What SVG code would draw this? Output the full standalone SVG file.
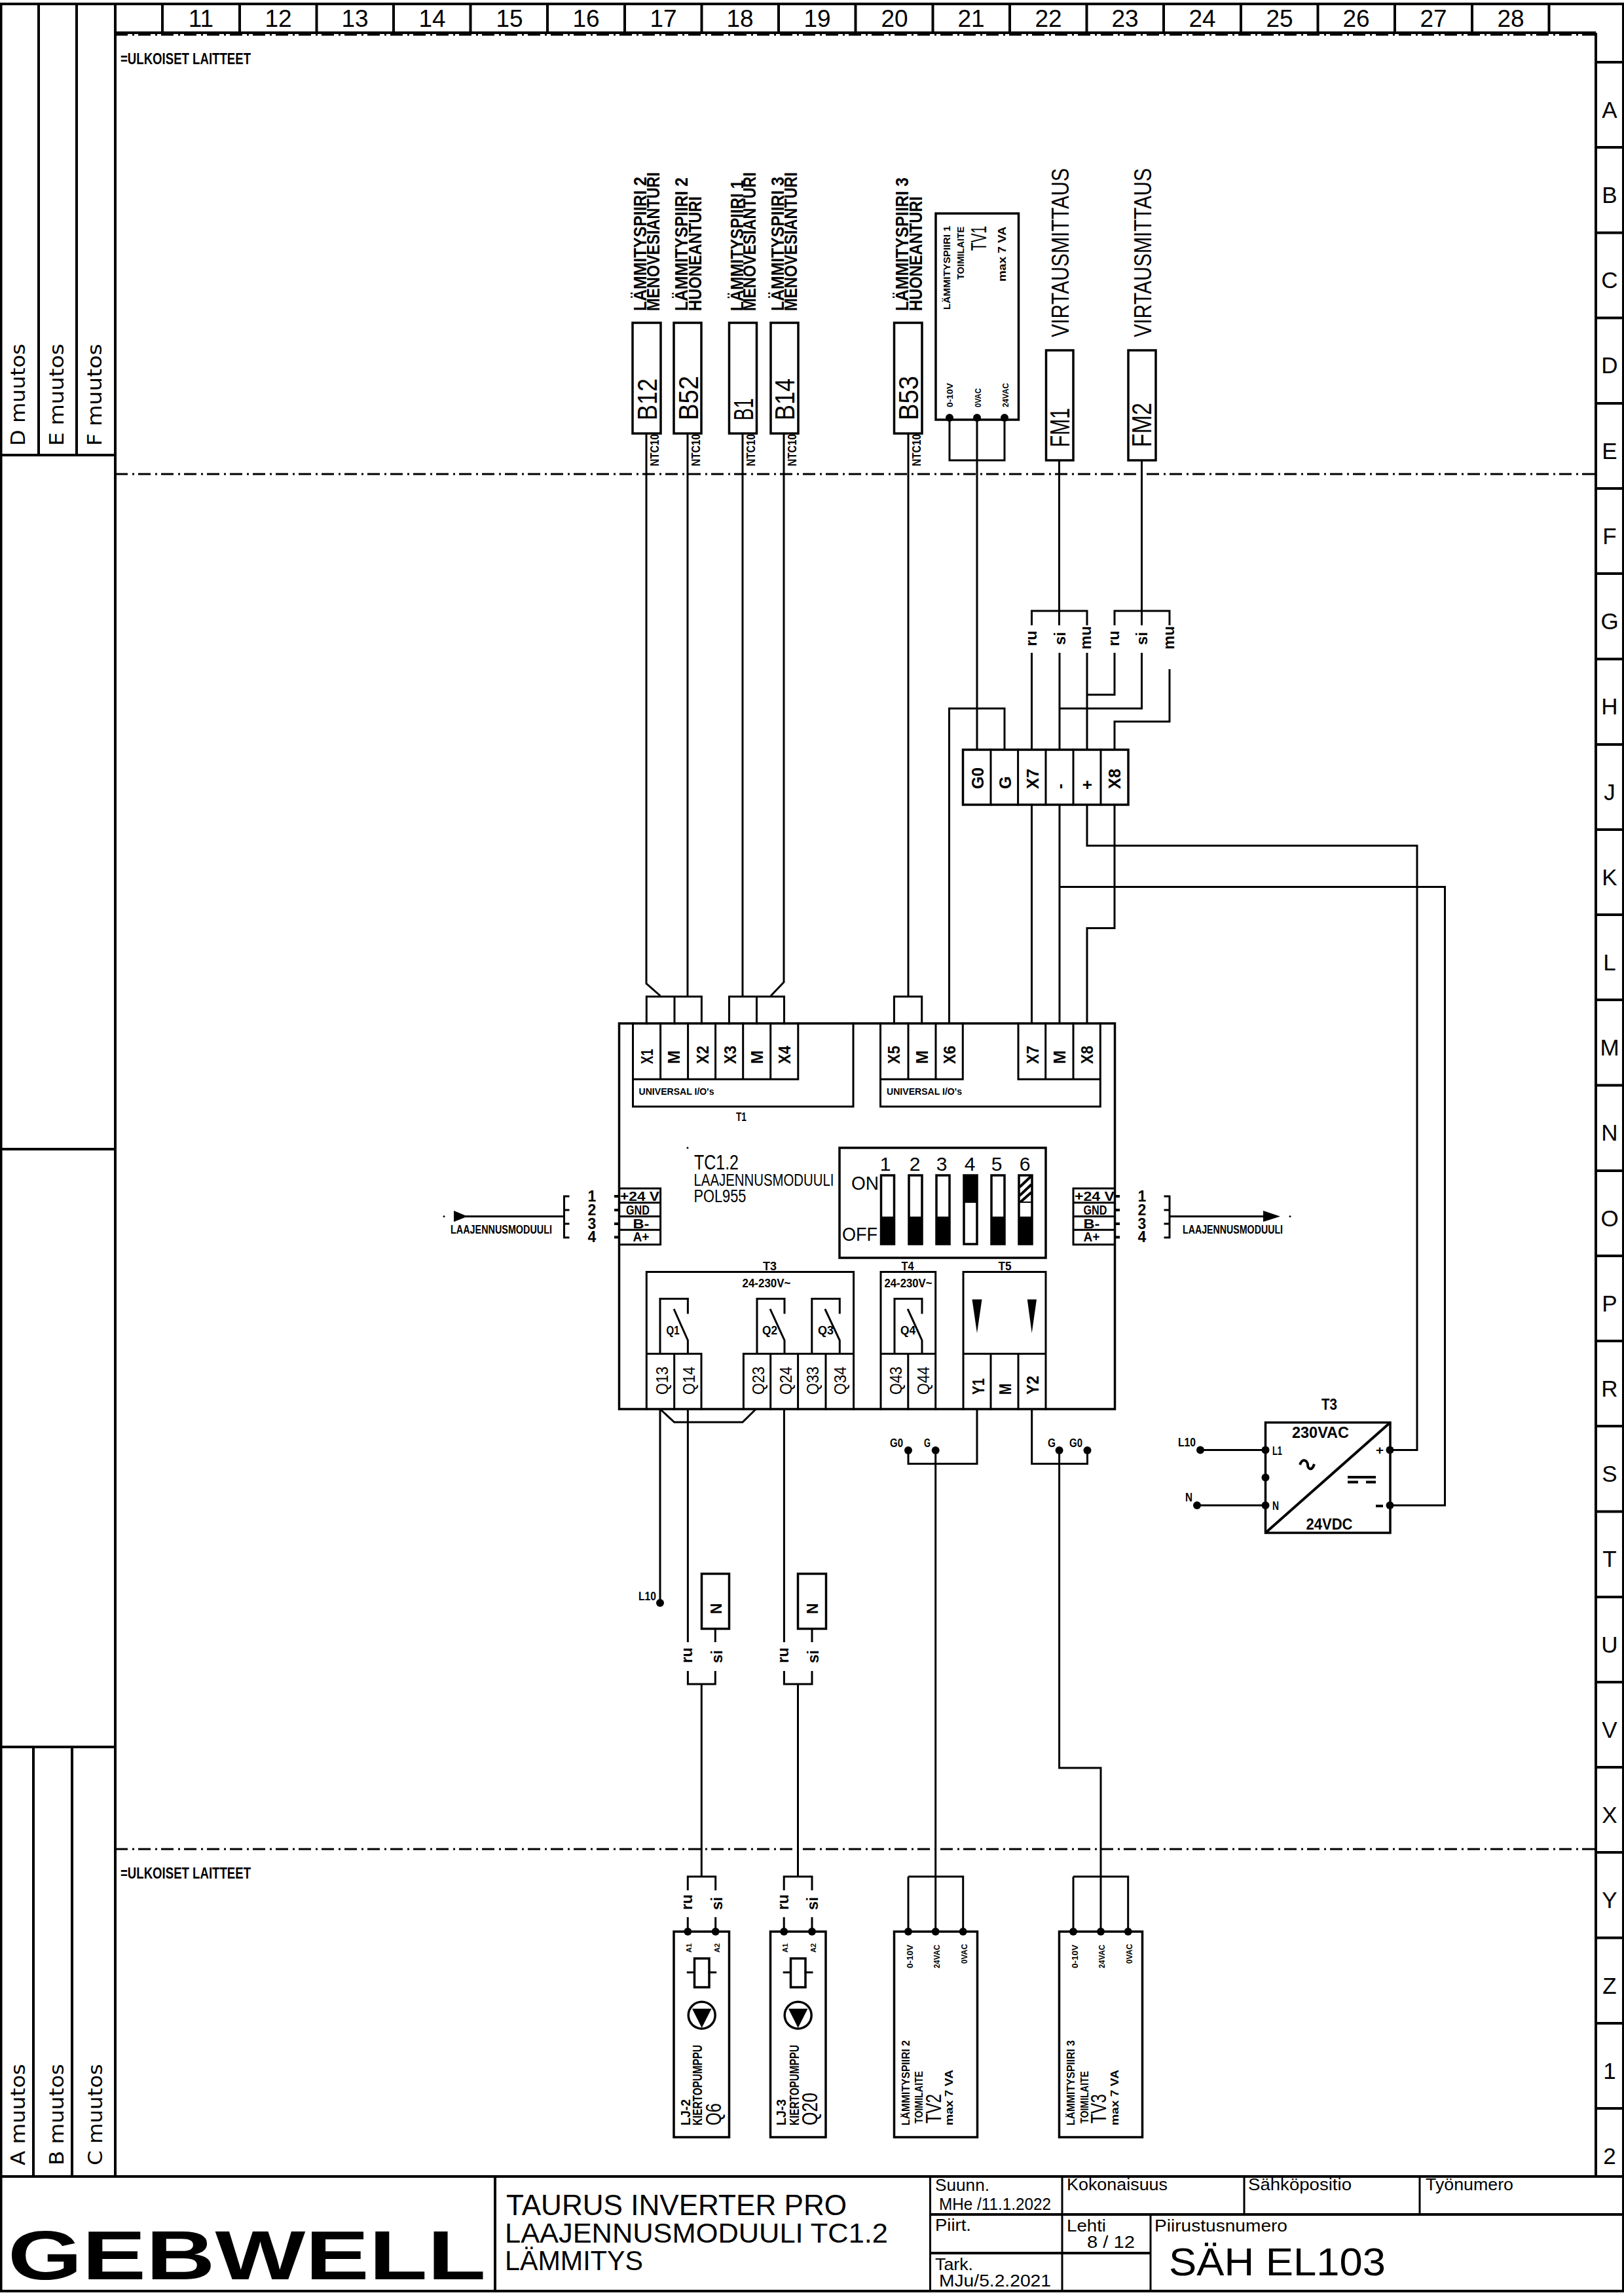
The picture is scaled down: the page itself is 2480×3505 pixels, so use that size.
<svg xmlns="http://www.w3.org/2000/svg" width="2480" height="3505" viewBox="0 0 2480 3505">
<style>
.l{fill:none;stroke:#000;stroke-width:3;stroke-linecap:square;stroke-linejoin:miter}
.w{fill:none;stroke:#000;stroke-width:3;stroke-linecap:butt}
.h{fill:none;stroke:#000;stroke-width:4;stroke-linecap:butt}
.dd{fill:none;stroke:#000;stroke-width:3;stroke-dasharray:19 7 3 6}
.d{fill:#000;stroke:none}
.f{fill:#000;stroke:none}
.box{fill:#fff;stroke:#000;stroke-width:3.5}
text{font-family:"Liberation Sans",Arial,sans-serif;fill:#000}
.b{font-weight:bold}
.m{font-family:"DejaVu Sans","Liberation Sans",sans-serif}
.c{text-anchor:middle}
</style>
<rect width="2480" height="3505" fill="#fff"/>
<g id="frame">
<path class="h" d="M0 6H2480M1.5 6V3499M0 3499H2480M2479 6V3499M0 3324H2480M176 6V3324M2437 50V3324M248 6V50M366 6V50M483.5 6V50M601 6V50M718.5 6V50M836 6V50M954 6V50M1071.5 6V50M1189 6V50M1306.5 6V50M1424.5 6V50M1542 6V50M1659.5 6V50M1777 6V50M1895 6V50M2012.5 6V50M2130 6V50M2248 6V50M2365.5 6V50"/>
<path class="h" d="M176 50H2437"/><path class="dd" d="M176 53H2437" stroke-width="3"/>
<path class="h" d="M59 6V695M117 6V695M0 695H176M0 1755H176M0 2668H176M51 2668V3324M110 2668V3324"/>
<path class="h" d="M2437 95H2480M2437 225H2480M2437 355.500H2480M2437 485.500H2480M2437 616H2480M2437 746H2480M2437 876H2480M2437 1006.500H2480M2437 1137H2480M2437 1267H2480M2437 1397H2480M2437 1527H2480M2437 1657.500H2480M2437 1788H2480M2437 1918H2480M2437 2048H2480M2437 2178H2480M2437 2308.500H2480M2437 2439H2480M2437 2569H2480M2437 2699H2480M2437 2829H2480M2437 2959.500H2480M2437 3090H2480M2437 3220H2480"/>
<path class="dd" d="M176 724H2437M176 2824H2437"/>
<g font-size="37" class="c">
<text class="c" x="307" y="41">11</text><text class="c" x="425" y="41">12</text><text class="c" x="542" y="41">13</text><text class="c" x="660" y="41">14</text><text class="c" x="778" y="41">15</text><text class="c" x="895" y="41">16</text><text class="c" x="1013" y="41">17</text><text class="c" x="1130" y="41">18</text><text class="c" x="1248" y="41">19</text><text class="c" x="1366" y="41">20</text><text class="c" x="1483" y="41">21</text><text class="c" x="1601" y="41">22</text><text class="c" x="1718" y="41">23</text><text class="c" x="1836" y="41">24</text><text class="c" x="1954" y="41">25</text><text class="c" x="2071" y="41">26</text><text class="c" x="2189" y="41">27</text><text class="c" x="2307" y="41">28</text>
</g>
<g font-size="35">
<text class="c" x="2458" y="180">A</text><text class="c" x="2458" y="310">B</text><text class="c" x="2458" y="440">C</text><text class="c" x="2458" y="570">D</text><text class="c" x="2458" y="701">E</text><text class="c" x="2458" y="831">F</text><text class="c" x="2458" y="961">G</text><text class="c" x="2458" y="1091">H</text><text class="c" x="2458" y="1222">J</text><text class="c" x="2458" y="1352">K</text><text class="c" x="2458" y="1482">L</text><text class="c" x="2458" y="1612">M</text><text class="c" x="2458" y="1742">N</text><text class="c" x="2458" y="1873">O</text><text class="c" x="2458" y="2003">P</text><text class="c" x="2458" y="2133">R</text><text class="c" x="2458" y="2263">S</text><text class="c" x="2458" y="2393">T</text><text class="c" x="2458" y="2524">U</text><text class="c" x="2458" y="2654">V</text><text class="c" x="2458" y="2784">X</text><text class="c" x="2458" y="2914">Y</text><text class="c" x="2458" y="3045">Z</text><text class="c" x="2458" y="3175">1</text><text class="c" x="2458" y="3305">2</text>
</g>
<g font-size="30">
<text class="m" transform="translate(38 681) rotate(-90)" textLength="156" lengthAdjust="spacingAndGlyphs">D muutos</text>
<text class="m" transform="translate(97 681) rotate(-90)" textLength="156" lengthAdjust="spacingAndGlyphs">E muutos</text>
<text class="m" transform="translate(155 681) rotate(-90)" textLength="156" lengthAdjust="spacingAndGlyphs">F muutos</text>
<text class="m" transform="translate(38 3307) rotate(-90)" textLength="155" lengthAdjust="spacingAndGlyphs">A muutos</text>
<text class="m" transform="translate(97 3307) rotate(-90)" textLength="155" lengthAdjust="spacingAndGlyphs">B muutos</text>
<text class="m" transform="translate(156 3307) rotate(-90)" textLength="155" lengthAdjust="spacingAndGlyphs">C muutos</text>
</g>
<text class="b" x="184" y="98" font-size="24" textLength="199" lengthAdjust="spacingAndGlyphs">=ULKOISET LAITTEET</text>
<text class="b" x="184" y="2869" font-size="24" textLength="199" lengthAdjust="spacingAndGlyphs">=ULKOISET LAITTEET</text>
</g>
<g id="titleblock">
<path class="h" d="M756 3324V3499"/>
<path class="l" d="M1420.500 3324V3499M1622 3324V3499M1900 3324V3382M2168 3324V3382M1757 3382V3499"/>
<path class="h" d="M1420.500 3382H2480M1420.500 3441H1757"/>
<text class="b" x="12" y="3481" font-size="106" textLength="730" lengthAdjust="spacingAndGlyphs">GEBWELL</text>
<text x="773" y="3383" font-size="44" textLength="520" lengthAdjust="spacingAndGlyphs">TAURUS INVERTER PRO</text>
<text x="771" y="3425" font-size="42" textLength="585" lengthAdjust="spacingAndGlyphs">LAAJENNUSMODUULI TC1.2</text>
<text x="771" y="3467" font-size="42" textLength="211" lengthAdjust="spacingAndGlyphs">LÄMMITYS</text>
<g font-size="25">
<text x="1428" y="3346" textLength="83" lengthAdjust="spacingAndGlyphs">Suunn.</text>
<text x="1434" y="3375" textLength="171" lengthAdjust="spacingAndGlyphs">MHe /11.1.2022</text>
<text x="1629" y="3345" textLength="154" lengthAdjust="spacingAndGlyphs">Kokonaisuus</text>
<text x="1906" y="3345" textLength="158" lengthAdjust="spacingAndGlyphs">Sähköpositio</text>
<text x="2177" y="3345" textLength="134" lengthAdjust="spacingAndGlyphs">Työnumero</text>
<text x="1428" y="3407" textLength="55" lengthAdjust="spacingAndGlyphs">Piirt.</text>
<text x="1629" y="3408" textLength="60" lengthAdjust="spacingAndGlyphs">Lehti</text>
<text x="1660" y="3433" textLength="73" lengthAdjust="spacingAndGlyphs">8 / 12</text>
<text x="1763" y="3408" textLength="203" lengthAdjust="spacingAndGlyphs">Piirustusnumero</text>
<text x="1428" y="3467" textLength="58" lengthAdjust="spacingAndGlyphs">Tark.</text>
<text x="1434" y="3492" textLength="171" lengthAdjust="spacingAndGlyphs">MJu/5.2.2021</text>
</g>
<text x="1785" y="3475" font-size="60" textLength="331" lengthAdjust="spacingAndGlyphs">SÄH EL103</text>
</g>
<g id="connectors">
<path class="w" d="M987 662V1502L1008.500 1521M1050 662V1522M1134 662V1522M1197 662V1500L1177 1521M1387 662V1522"/>
<path class="w" d="M1450 638V703H1534V638M1492 638V1145M1617.500 703V955M1743.500 703V955"/>
<path class="w" d="M1575.500 955V933H1660V955M1702 955V933H1786V955"/>
<path class="w" d="M1575.500 997V1145M1618 997V1145M1660 997V1145M1702 997V1061H1660M1743.500 997V1082H1618M1786 1022V1102H1702V1145"/>
<path class="w" d="M1534 1145V1082H1449.500V1563"/>
<path class="w" d="M1575.500 1229V1563M1618 1229V1563M1660 1229V1291.500H2164V2214.500H2123M1618 1354.500H2206.500V2299H2123M1702 1229V1417.500H1660V1563"/>
<path class="w" d="M1008 2152V2448M1008 2152L1029.700 2172H1134L1154.300 2152M1050.400 2152V2508M1197.400 2152V2508"/>
<path class="w" d="M1092.300 2487.500V2508M1240 2487.500V2508"/>
<path class="w" d="M1050.400 2552V2572H1092.300V2552M1071.300 2572V2866M1197.400 2552V2572H1240V2552M1218.500 2572V2866"/>
<path class="w" d="M1050.300 2887V2866H1092.700V2887M1197.200 2887V2866H1240V2887M1050.300 2928V2950M1092.700 2928V2950M1197.200 2928V2950M1240 2928V2950"/>
<path class="w" d="M1492 2152V2235.500H1387V2215M1428.700 2215V2950M1387 2866H1470.700V2950M1387 2866V2950"/>
<path class="w" d="M1575.700 2152V2235.500H1660.500V2215M1617.600 2215V2700H1681V2950M1639 2866H1722.700V2950M1639 2866V2950"/>
<path class="w" d="M1833 2214.500H1932.500M1828 2299H1932.500"/>
<path class="w" d="M860 1857.700H711M1786 1857.700H1932"/>
<path class="l" d="M868 1827H861.500V1890H868M861.500 1848H868M861.500 1869H868M1779 1827H1786V1890H1779M1786 1848H1779M1786 1869H1779"/>
<path class="f" d="M693 1849L714 1857.700L693 1866ZM1929 1849L1955 1857.700L1929 1866Z"/>
<circle class="d" cx="678" cy="1857.700" r="1.500"/><circle class="d" cx="1970" cy="1857.700" r="1.500"/>
<text class="b" x="688" y="1884" font-size="19" textLength="155" lengthAdjust="spacingAndGlyphs">LAAJENNUSMODUULI</text>
<text class="b" x="1806" y="1884" font-size="19" textLength="153" lengthAdjust="spacingAndGlyphs">LAAJENNUSMODUULI</text>
<g class="b" font-size="23">
<text class="b c" x="904" y="1835">1</text><text class="b c" x="904" y="1856">2</text><text class="b c" x="904" y="1877">3</text><text class="b c" x="904" y="1897">4</text>
<text class="b c" x="1744" y="1835">1</text><text class="b c" x="1744" y="1856">2</text><text class="b c" x="1744" y="1877">3</text><text class="b c" x="1744" y="1897">4</text>
</g>
<g font-size="24" class="b">
<text class="b" transform="translate(1583 987) rotate(-90)">ru</text><text class="b" transform="translate(1627 985) rotate(-90)">si</text><text class="b" transform="translate(1666 992) rotate(-90)" textLength="36" lengthAdjust="spacingAndGlyphs">mu</text>
<text class="b" transform="translate(1709 987) rotate(-90)">ru</text><text class="b" transform="translate(1752 985) rotate(-90)">si</text><text class="b" transform="translate(1793 992) rotate(-90)" textLength="36" lengthAdjust="spacingAndGlyphs">mu</text>
<text class="b" transform="translate(1057 2540) rotate(-90)">ru</text><text class="b" transform="translate(1103 2540) rotate(-90)">si</text><text class="b" transform="translate(1204 2540) rotate(-90)">ru</text><text class="b" transform="translate(1250 2540) rotate(-90)">si</text>
<text class="b" transform="translate(1057 2917) rotate(-90)">ru</text><text class="b" transform="translate(1103 2917) rotate(-90)">si</text><text class="b" transform="translate(1204 2917) rotate(-90)">ru</text><text class="b" transform="translate(1249 2917) rotate(-90)">si</text>
</g>
</g>
<g id="sensor-B12"><rect class="box" x="966" y="493" width="43" height="169"/>
<text transform="translate(1003 642) rotate(-90)" font-size="42" textLength="64" lengthAdjust="spacingAndGlyphs">B12</text>
<text class="b" transform="translate(987 475) rotate(-90)" font-size="27" textLength="205" lengthAdjust="spacingAndGlyphs">LÄMMITYSPIIRI 2</text>
<text class="b" transform="translate(1007 475) rotate(-90)" font-size="27" textLength="212" lengthAdjust="spacingAndGlyphs">MENOVESIANTURI</text>
<text class="b" transform="translate(1006 712) rotate(-90)" font-size="19" textLength="49" lengthAdjust="spacingAndGlyphs">NTC10</text></g>
<g id="sensor-B52"><rect class="box" x="1029" y="493" width="42" height="169"/>
<text transform="translate(1066 642) rotate(-90)" font-size="42" textLength="68" lengthAdjust="spacingAndGlyphs">B52</text>
<text class="b" transform="translate(1050 475) rotate(-90)" font-size="27" textLength="204" lengthAdjust="spacingAndGlyphs">LÄMMITYSPIIRI 2</text>
<text class="b" transform="translate(1071 475) rotate(-90)" font-size="27" textLength="175" lengthAdjust="spacingAndGlyphs">HUONEANTURI</text>
<text class="b" transform="translate(1069 712) rotate(-90)" font-size="19" textLength="49" lengthAdjust="spacingAndGlyphs">NTC10</text></g>
<g id="sensor-B1"><rect class="box" x="1113.500" y="493" width="42" height="169"/>
<text transform="translate(1150 642) rotate(-90)" font-size="42" textLength="34" lengthAdjust="spacingAndGlyphs">B1</text>
<text class="b" transform="translate(1135 475) rotate(-90)" font-size="27" textLength="200" lengthAdjust="spacingAndGlyphs">LÄMMITYSPIIRI 1</text>
<text class="b" transform="translate(1154 475) rotate(-90)" font-size="27" textLength="212" lengthAdjust="spacingAndGlyphs">MENOVESIANTURI</text>
<text class="b" transform="translate(1153 712) rotate(-90)" font-size="19" textLength="49" lengthAdjust="spacingAndGlyphs">NTC10</text></g>
<g id="sensor-B14"><rect class="box" x="1177" y="493" width="42" height="169"/>
<text transform="translate(1213 642) rotate(-90)" font-size="42" textLength="64" lengthAdjust="spacingAndGlyphs">B14</text>
<text class="b" transform="translate(1197 475) rotate(-90)" font-size="27" textLength="205" lengthAdjust="spacingAndGlyphs">LÄMMITYSPIIRI 3</text>
<text class="b" transform="translate(1217 475) rotate(-90)" font-size="27" textLength="212" lengthAdjust="spacingAndGlyphs">MENOVESIANTURI</text>
<text class="b" transform="translate(1216 712) rotate(-90)" font-size="19" textLength="49" lengthAdjust="spacingAndGlyphs">NTC10</text></g>
<g id="sensor-B53"><rect class="box" x="1365.500" y="493" width="42.500" height="169"/>
<text transform="translate(1402 642) rotate(-90)" font-size="42" textLength="68" lengthAdjust="spacingAndGlyphs">B53</text>
<text class="b" transform="translate(1387 475) rotate(-90)" font-size="27" textLength="204" lengthAdjust="spacingAndGlyphs">LÄMMITYSPIIRI 3</text>
<text class="b" transform="translate(1408 475) rotate(-90)" font-size="27" textLength="175" lengthAdjust="spacingAndGlyphs">HUONEANTURI</text>
<text class="b" transform="translate(1406 712) rotate(-90)" font-size="19" textLength="49" lengthAdjust="spacingAndGlyphs">NTC10</text></g>
<g id="actuator-TV1"><rect class="box" x="1429" y="326" width="126.500" height="315"/>
<text class="b" transform="translate(1451 473) rotate(-90)" font-size="15" textLength="128" lengthAdjust="spacingAndGlyphs">LÄMMITYSPIIRI 1</text>
<text class="b" transform="translate(1472 427) rotate(-90)" font-size="15" textLength="81" lengthAdjust="spacingAndGlyphs">TOIMILAITE</text>
<text transform="translate(1506 383) rotate(-90)" font-size="34" textLength="38" lengthAdjust="spacingAndGlyphs">TV1</text>
<text class="b" transform="translate(1536 430) rotate(-90)" font-size="17" textLength="84" lengthAdjust="spacingAndGlyphs">max 7 VA</text>
<text class="b" transform="translate(1455 622) rotate(-90)" font-size="12" textLength="37" lengthAdjust="spacingAndGlyphs">0-10V</text>
<text class="b" transform="translate(1498 622) rotate(-90)" font-size="12" textLength="29" lengthAdjust="spacingAndGlyphs">0VAC</text>
<text class="b" transform="translate(1540 622) rotate(-90)" font-size="12" textLength="37" lengthAdjust="spacingAndGlyphs">24VAC</text>
<circle class="d" cx="1450" cy="638" r="6"/><circle class="d" cx="1492" cy="638" r="6"/><circle class="d" cx="1534" cy="638" r="6"/></g>
<g id="FM1"><rect class="box" x="1597.500" y="535" width="41.500" height="168"/>
<text transform="translate(1633 683) rotate(-90)" font-size="42" textLength="60" lengthAdjust="spacingAndGlyphs">FM1</text>
<text transform="translate(1632 515) rotate(-90)" font-size="36" textLength="258" lengthAdjust="spacingAndGlyphs">VIRTAUSMITTAUS</text></g>
<g id="FM2"><rect class="box" x="1723" y="535" width="42" height="168"/>
<text transform="translate(1758 683) rotate(-90)" font-size="42" textLength="68" lengthAdjust="spacingAndGlyphs">FM2</text>
<text transform="translate(1758 515) rotate(-90)" font-size="36" textLength="258" lengthAdjust="spacingAndGlyphs">VIRTAUSMITTAUS</text></g>
<g id="terminal-block">
<rect class="box" x="1470.500" y="1145" width="252.500" height="84"/>
<path class="l" d="M1513 1145V1229M1554.600 1145V1229M1597 1145V1229M1639 1145V1229M1681 1145V1229"/>
<g font-size="25" class="b">
<text class="b" transform="translate(1502 1205) rotate(-90)" textLength="33" lengthAdjust="spacingAndGlyphs">G0</text>
<text class="b" transform="translate(1544 1205) rotate(-90)">G</text>
<text class="b" transform="translate(1586 1205) rotate(-90)" textLength="31" lengthAdjust="spacingAndGlyphs">X7</text>
<text class="b" transform="translate(1627 1205) rotate(-90)">-</text>
<text class="b" transform="translate(1669 1206) rotate(-90)">+</text>
<text class="b" transform="translate(1711 1205) rotate(-90)" textLength="31" lengthAdjust="spacingAndGlyphs">X8</text>
</g></g>
<g id="module-TC1.2">
<rect class="box" x="945.500" y="1563" width="757" height="589" fill="none" style="fill:none"/>
<path class="l" d="M987.300 1563V1522H1071.400V1563M1030 1522V1563M1113.500 1563V1522H1197.500V1563M1155.500 1522V1563M1365.400 1563V1522H1407.700V1563"/>
<path class="l" d="M966.500 1563V1690H1303V1563M966.500 1648.300H1218.800V1563M1008.600 1563V1648M1050.600 1563V1648M1092.600 1563V1648M1134.700 1563V1648M1176.700 1563V1648"/>
<path class="l" d="M1344.500 1563V1690H1680.300V1563M1344.500 1648.300H1470.300V1563M1555 1563V1648.300H1680M1387 1563V1648M1429 1563V1648M1596.700 1563V1648M1639 1563V1648"/>
<g font-size="25" class="b">
<text class="b" transform="translate(997 1625) rotate(-90)" textLength="23" lengthAdjust="spacingAndGlyphs">X1</text><text class="b" transform="translate(1038 1625) rotate(-90)">M</text><text class="b" transform="translate(1081.500 1625) rotate(-90)" textLength="28" lengthAdjust="spacingAndGlyphs">X2</text><text class="b" transform="translate(1123.500 1625) rotate(-90)" textLength="28" lengthAdjust="spacingAndGlyphs">X3</text><text class="b" transform="translate(1164.500 1625) rotate(-90)">M</text><text class="b" transform="translate(1207 1625) rotate(-90)" textLength="28" lengthAdjust="spacingAndGlyphs">X4</text>
<text class="b" transform="translate(1374 1625) rotate(-90)" textLength="28" lengthAdjust="spacingAndGlyphs">X5</text><text class="b" transform="translate(1416.500 1625) rotate(-90)">M</text><text class="b" transform="translate(1459 1625) rotate(-90)" textLength="28" lengthAdjust="spacingAndGlyphs">X6</text><text class="b" transform="translate(1585.800 1625) rotate(-90)" textLength="28" lengthAdjust="spacingAndGlyphs">X7</text><text class="b" transform="translate(1627 1625) rotate(-90)">M</text><text class="b" transform="translate(1669 1625) rotate(-90)" textLength="28" lengthAdjust="spacingAndGlyphs">X8</text>
</g>
<text class="b" x="975.500" y="1672" font-size="15" textLength="115" lengthAdjust="spacingAndGlyphs">UNIVERSAL I/O's</text>
<text class="b" x="1354" y="1672" font-size="15" textLength="115" lengthAdjust="spacingAndGlyphs">UNIVERSAL I/O's</text>
<text class="b" x="1124" y="1712" font-size="19" textLength="16" lengthAdjust="spacingAndGlyphs">T1</text>
<circle class="d" cx="1050" cy="1753" r="1.500"/>
<text x="1060" y="1786" font-size="31" textLength="68" lengthAdjust="spacingAndGlyphs">TC1.2</text>
<text x="1059.500" y="1811" font-size="25" textLength="214" lengthAdjust="spacingAndGlyphs">LAAJENNUSMODUULI</text>
<text x="1059.500" y="1836" font-size="27" textLength="80" lengthAdjust="spacingAndGlyphs">POL955</text>
<g id="dip-switch">
<rect class="box" x="1282" y="1753" width="315" height="168"/>
<rect class="box" x="1345.500" y="1795" width="20" height="105"/><rect class="f" x="1344.500" y="1858" width="22" height="43"/>
<rect class="box" x="1388" y="1795" width="20" height="105"/><rect class="f" x="1387" y="1858" width="22" height="43"/>
<rect class="box" x="1430" y="1795" width="20" height="105"/><rect class="f" x="1429" y="1858" width="22" height="43"/>
<rect class="box" x="1472" y="1795" width="20" height="105"/><rect class="f" x="1471" y="1794" width="22" height="43"/>
<rect class="box" x="1514" y="1795" width="20" height="105"/><rect class="f" x="1513" y="1858" width="22" height="43"/>
<rect class="box" x="1556" y="1795" width="20" height="105"/><rect class="f" x="1555" y="1858" width="22" height="43"/>
<path class="f" d="M1555 1835V1837H1577V1835Z"/>
<path class="h" d="M1557 1813L1574 1797M1557 1826L1575 1809M1558 1836L1575 1821"/>
<g font-size="30">
<text class="c" x="1352" y="1788">1</text><text class="c" x="1397" y="1788">2</text><text class="c" x="1438" y="1788">3</text><text class="c" x="1481" y="1788">4</text><text class="c" x="1522" y="1788">5</text><text class="c" x="1565" y="1788">6</text>
</g>
<text x="1300" y="1817" font-size="30" textLength="42" lengthAdjust="spacingAndGlyphs">ON</text>
<text x="1286" y="1895" font-size="30" textLength="54" lengthAdjust="spacingAndGlyphs">OFF</text>
</g>
<path class="l" d="M946 1815H1008.600V1900.700H946M946 1836.700H1008.600M946 1857.700H1008.600M946 1878.300H1008.600"/>
<path class="l" d="M1702 1815H1639V1900.700H1702M1639 1836.700H1702M1639 1857.700H1702M1639 1878.300H1702"/>
<path class="h" d="M938 1827H945M938 1848H945M938 1869H945M938 1889.500H945M1703 1827H1710M1703 1848H1710M1703 1869H1710M1703 1889.500H1710"/>
<g class="b" font-size="21">
<text class="b" x="947" y="1834" textLength="60" lengthAdjust="spacingAndGlyphs">+24 V</text><text class="b" x="956" y="1855" textLength="36" lengthAdjust="spacingAndGlyphs">GND</text><text class="b" x="966.500" y="1876" textLength="25" lengthAdjust="spacingAndGlyphs">B-</text><text class="b" x="966.500" y="1896" textLength="25" lengthAdjust="spacingAndGlyphs">A+</text>
<text class="b" x="1641" y="1834" textLength="61" lengthAdjust="spacingAndGlyphs">+24 V</text><text class="b" x="1654.500" y="1855" textLength="36" lengthAdjust="spacingAndGlyphs">GND</text><text class="b" x="1654.500" y="1876" textLength="25" lengthAdjust="spacingAndGlyphs">B-</text><text class="b" x="1654.500" y="1896" textLength="25" lengthAdjust="spacingAndGlyphs">A+</text>
</g>
<path class="l" d="M987.300 2067.500V1942.500H1303.600V2152M987.300 2067.500V2152M987.300 2067.500H1071V2152M1029.700 2067.500V2152M1135.400 2152V2067.500H1303.600M1176.700 2067.500V2152M1218.600 2067.500V2152M1261 2067.500V2152"/>
<path class="l" d="M1345 2152V1942.500H1428.700V2152M1345 2067.500H1428.700M1386.800 2067.500V2152"/>
<path class="l" d="M1471 2152V1942.500H1597V2152M1471 2067.500H1597M1513 2067.500V2152M1555 2067.500V2152"/>
<path class="l" d="M1008 2067V1983.500H1050.400V2005M1050.400 2067V2047L1029.700 2000.500M1156 2067V1983.500H1198V2005M1198 2067V2047L1176.700 2000.500M1239.800 2067V1983.500H1282.300V2005M1282.300 2067V2047L1260.500 2000.500M1366 2067V1983.500H1408V2005M1408 2067V2047L1386.800 2000.500"/>
<path class="f" d="M1484.500 1984.500H1499.500L1492 2036ZM1568.800 1984.500H1583L1575.700 2036Z"/>
<g class="b" font-size="18">
<text class="b" x="1017.500" y="2038" textLength="20" lengthAdjust="spacingAndGlyphs">Q1</text><text class="b" x="1164" y="2038" textLength="23" lengthAdjust="spacingAndGlyphs">Q2</text><text class="b" x="1249" y="2038" textLength="24" lengthAdjust="spacingAndGlyphs">Q3</text><text class="b" x="1375" y="2038" textLength="23" lengthAdjust="spacingAndGlyphs">Q4</text>
<text class="b" x="1165" y="1940" textLength="21" lengthAdjust="spacingAndGlyphs">T3</text><text class="b" x="1376.500" y="1940" textLength="19" lengthAdjust="spacingAndGlyphs">T4</text><text class="b" x="1524.500" y="1940" textLength="20" lengthAdjust="spacingAndGlyphs">T5</text>
<text class="b" x="1133.500" y="1966" textLength="74" lengthAdjust="spacingAndGlyphs">24-230V~</text><text class="b" x="1350.500" y="1966" textLength="73" lengthAdjust="spacingAndGlyphs">24-230V~</text>
</g>
<g font-size="25">
<text transform="translate(1019.500 2130) rotate(-90)" textLength="43" lengthAdjust="spacingAndGlyphs">Q13</text><text transform="translate(1060.500 2130) rotate(-90)" textLength="43" lengthAdjust="spacingAndGlyphs">Q14</text><text transform="translate(1167 2130) rotate(-90)" textLength="43" lengthAdjust="spacingAndGlyphs">Q23</text><text transform="translate(1209 2130) rotate(-90)" textLength="43" lengthAdjust="spacingAndGlyphs">Q24</text><text transform="translate(1250 2130) rotate(-90)" textLength="43" lengthAdjust="spacingAndGlyphs">Q33</text><text transform="translate(1292 2130) rotate(-90)" textLength="43" lengthAdjust="spacingAndGlyphs">Q34</text><text transform="translate(1376.500 2130) rotate(-90)" textLength="43" lengthAdjust="spacingAndGlyphs">Q43</text><text transform="translate(1418.500 2130) rotate(-90)" textLength="43" lengthAdjust="spacingAndGlyphs">Q44</text>
<text class="b" transform="translate(1503 2130) rotate(-90)" textLength="25" lengthAdjust="spacingAndGlyphs">Y1</text><text class="b" transform="translate(1544 2130) rotate(-90)" textLength="17" lengthAdjust="spacingAndGlyphs">M</text><text class="b" transform="translate(1586 2130) rotate(-90)" textLength="29" lengthAdjust="spacingAndGlyphs">Y2</text>
</g>
</g>
<g id="feeds">
<circle class="d" cx="1008" cy="2448" r="6"/><text class="b" x="975" y="2444" font-size="19" textLength="27" lengthAdjust="spacingAndGlyphs">L10</text>
<rect class="box" x="1071.500" y="2403.500" width="42" height="84"/><text class="b" transform="translate(1101.700 2465) rotate(-90)" font-size="23">N</text>
<rect class="box" x="1218.500" y="2403.500" width="43" height="84"/><text class="b" transform="translate(1249 2465) rotate(-90)" font-size="23">N</text>
<circle class="d" cx="1387" cy="2215" r="6"/><circle class="d" cx="1428.700" cy="2215" r="6"/><circle class="d" cx="1617.600" cy="2215" r="6"/><circle class="d" cx="1660.500" cy="2215" r="6"/>
<g class="b" font-size="19">
<text class="b" x="1359" y="2210" textLength="20" lengthAdjust="spacingAndGlyphs">G0</text><text class="b" x="1411" y="2210" textLength="10" lengthAdjust="spacingAndGlyphs">G</text><text class="b" x="1600" y="2210" textLength="12" lengthAdjust="spacingAndGlyphs">G</text><text class="b" x="1633" y="2210" textLength="20" lengthAdjust="spacingAndGlyphs">G0</text>
</g></g>
<g id="psu-T3">
<rect class="box" x="1932.500" y="2172.500" width="190.500" height="168.500"/>
<path class="h" d="M1932.500 2341L2123 2172.500"/>
<text class="b" x="2018" y="2153" font-size="23" textLength="24" lengthAdjust="spacingAndGlyphs">T3</text>
<text class="b" x="1973" y="2196" font-size="24" textLength="87" lengthAdjust="spacingAndGlyphs">230VAC</text>
<text class="b" x="1994.500" y="2336" font-size="24" textLength="71" lengthAdjust="spacingAndGlyphs">24VDC</text>
<text class="b" x="1799" y="2209" font-size="19" textLength="27" lengthAdjust="spacingAndGlyphs">L10</text>
<text class="b" x="1810" y="2293" font-size="18" textLength="11" lengthAdjust="spacingAndGlyphs">N</text>
<text class="b" x="1943" y="2222" font-size="19" textLength="15" lengthAdjust="spacingAndGlyphs">L1</text>
<text class="b" x="1943" y="2306" font-size="18" textLength="10" lengthAdjust="spacingAndGlyphs">N</text>
<text class="b" x="2101" y="2221" font-size="19" textLength="12" lengthAdjust="spacingAndGlyphs">+</text>
<path class="h" d="M2101 2300H2112"/>
<path class="h" d="M1985 2237C1990 2225 1997 2232 1997 2237C1997 2243 2003 2248 2007 2236"/>
<path class="h" d="M2058 2256H2101M2058 2263.500H2074M2086 2263.500H2101"/>
<circle class="d" cx="1833" cy="2214.500" r="6"/><circle class="d" cx="1828" cy="2299" r="6"/><circle class="d" cx="1932.500" cy="2214.500" r="6"/><circle class="d" cx="1932.500" cy="2256.500" r="6"/><circle class="d" cx="1932.500" cy="2299" r="6"/><circle class="d" cx="2122.500" cy="2214.500" r="6"/><circle class="d" cx="2122.500" cy="2299" r="6"/>
</g>
<g id="pump-Q6">
<rect class="box" x="1029" y="2950" width="84.500" height="314"/>
<circle class="d" cx="1050.300" cy="2950" r="6"/><circle class="d" cx="1092.700" cy="2950" r="6"/>
<text class="b" transform="translate(1056 2982) rotate(-90)" font-size="11">A1</text><text class="b" transform="translate(1099 2982) rotate(-90)" font-size="11">A2</text>
<rect class="box" x="1060.500" y="2991" width="22.500" height="44"/><path class="l" d="M1050.300 3012.300H1060.500M1083 3012.300H1092.700"/>
<circle cx="1071.700" cy="3077.700" r="20.500" class="box"/><path class="f" d="M1057 3067.700H1086.500L1071.700 3097Z"/>
<text class="b" transform="translate(1053.500 3246) rotate(-90)" font-size="21" textLength="40" lengthAdjust="spacingAndGlyphs">LJ-2</text>
<text class="b" transform="translate(1072 3246) rotate(-90)" font-size="20" textLength="123" lengthAdjust="spacingAndGlyphs">KIERTOPUMPPU</text>
<text transform="translate(1101 3246) rotate(-90)" font-size="33" textLength="34" lengthAdjust="spacingAndGlyphs">Q6</text>
</g>
<g id="pump-Q20">
<rect class="box" x="1176.500" y="2950" width="84.500" height="314"/>
<circle class="d" cx="1197.200" cy="2950" r="6"/><circle class="d" cx="1240" cy="2950" r="6"/>
<text class="b" transform="translate(1202.500 2982) rotate(-90)" font-size="11">A1</text><text class="b" transform="translate(1245.500 2982) rotate(-90)" font-size="11">A2</text>
<rect class="box" x="1207.500" y="2991" width="22.500" height="44"/><path class="l" d="M1197.200 3012.300H1207.500M1230 3012.300H1240"/>
<circle cx="1218.700" cy="3077.700" r="20.500" class="box"/><path class="f" d="M1204 3067.700H1233.500L1218.700 3097Z"/>
<text class="b" transform="translate(1200 3246) rotate(-90)" font-size="21" textLength="40" lengthAdjust="spacingAndGlyphs">LJ-3</text>
<text class="b" transform="translate(1220 3246) rotate(-90)" font-size="20" textLength="123" lengthAdjust="spacingAndGlyphs">KIERTOPUMPPU</text>
<text transform="translate(1248 3246) rotate(-90)" font-size="33" textLength="50" lengthAdjust="spacingAndGlyphs">Q20</text>
</g>
<g id="actuator-TV2">
<rect class="box" x="1365.500" y="2950" width="127" height="314"/>
<circle class="d" cx="1387" cy="2950" r="6"/><circle class="d" cx="1428.700" cy="2950" r="6"/><circle class="d" cx="1470.700" cy="2950" r="6"/>
<text class="b" transform="translate(1393.700 3006) rotate(-90)" font-size="12" textLength="36" lengthAdjust="spacingAndGlyphs">0-10V</text>
<text class="b" transform="translate(1434.500 3006) rotate(-90)" font-size="12" textLength="36" lengthAdjust="spacingAndGlyphs">24VAC</text>
<text class="b" transform="translate(1476.800 2999) rotate(-90)" font-size="12" textLength="30" lengthAdjust="spacingAndGlyphs">0VAC</text>
<text class="b" transform="translate(1388.500 3246) rotate(-90)" font-size="16" textLength="130" lengthAdjust="spacingAndGlyphs">LÄMMITYSPIIRI 2</text>
<text class="b" transform="translate(1409 3243) rotate(-90)" font-size="16" textLength="80" lengthAdjust="spacingAndGlyphs">TOIMILAITE</text>
<text transform="translate(1437 3243) rotate(-90)" font-size="34" textLength="45" lengthAdjust="spacingAndGlyphs">TV2</text>
<text class="b" transform="translate(1455 3246) rotate(-90)" font-size="17" textLength="85" lengthAdjust="spacingAndGlyphs">max 7 VA</text>
</g>
<g id="actuator-TV3">
<rect class="box" x="1617.500" y="2950" width="127" height="314"/>
<circle class="d" cx="1639" cy="2950" r="6"/><circle class="d" cx="1681" cy="2950" r="6"/><circle class="d" cx="1722.700" cy="2950" r="6"/>
<text class="b" transform="translate(1646 3006) rotate(-90)" font-size="12" textLength="36" lengthAdjust="spacingAndGlyphs">0-10V</text>
<text class="b" transform="translate(1687 3006) rotate(-90)" font-size="12" textLength="36" lengthAdjust="spacingAndGlyphs">24VAC</text>
<text class="b" transform="translate(1729 2999) rotate(-90)" font-size="12" textLength="30" lengthAdjust="spacingAndGlyphs">0VAC</text>
<text class="b" transform="translate(1641 3246) rotate(-90)" font-size="16" textLength="130" lengthAdjust="spacingAndGlyphs">LÄMMITYSPIIRI 3</text>
<text class="b" transform="translate(1661.500 3243) rotate(-90)" font-size="16" textLength="80" lengthAdjust="spacingAndGlyphs">TOIMILAITE</text>
<text transform="translate(1688.500 3243) rotate(-90)" font-size="34" textLength="45" lengthAdjust="spacingAndGlyphs">TV3</text>
<text class="b" transform="translate(1707.500 3246) rotate(-90)" font-size="17" textLength="85" lengthAdjust="spacingAndGlyphs">max 7 VA</text>
</g>
</svg>
